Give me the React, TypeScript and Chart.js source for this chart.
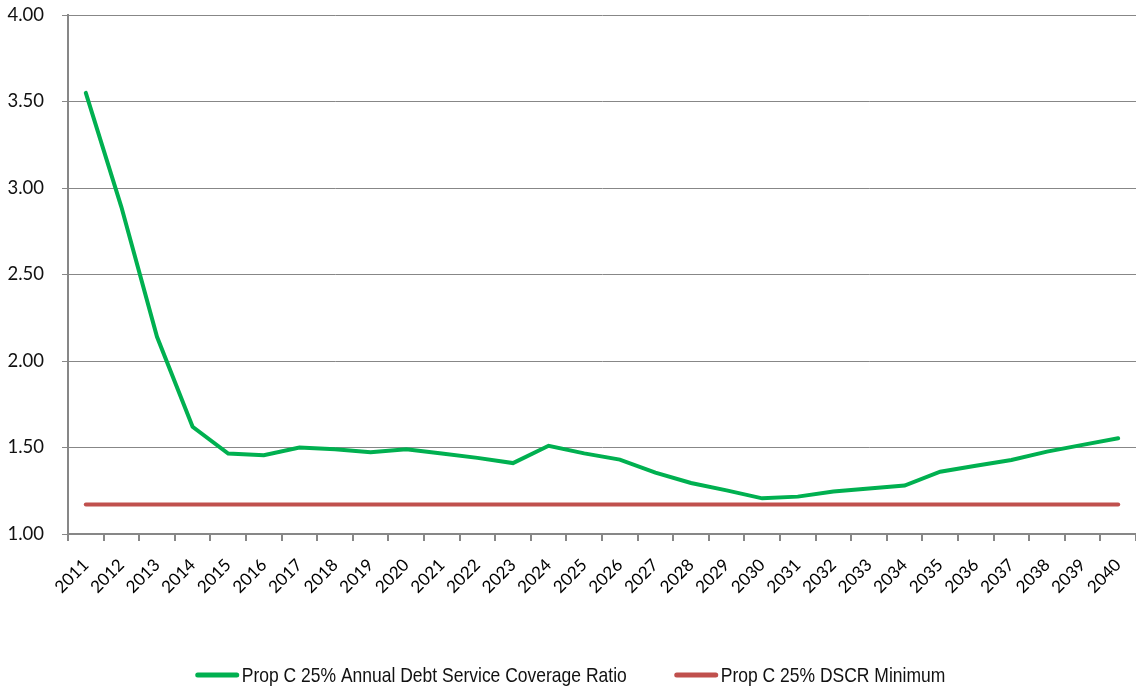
import React, { useEffect, useRef } from "react";
import { Chart, registerables } from "chart.js";

Chart.register(...registerables);

const years: string[] = [
  "2011", "2012", "2013", "2014", "2015", "2016", "2017", "2018", "2019", "2020",
  "2021", "2022", "2023", "2024", "2025", "2026", "2027", "2028", "2029", "2030",
  "2031", "2032", "2033", "2034", "2035", "2036", "2037", "2038", "2039", "2040",
];

const dscr: number[] = [
  3.55, 2.89, 2.14, 1.62, 1.465, 1.455, 1.50, 1.49, 1.472, 1.49,
  1.465, 1.44, 1.41, 1.51, 1.466, 1.43, 1.355, 1.295, 1.252, 1.206,
  1.216, 1.246, 1.263, 1.28, 1.36, 1.395, 1.428, 1.476, 1.515, 1.553,
];

const dscrMinimum: number[] = years.map(() => 1.17);

const seriesNames: string[] = [
  "Prop C 25% Annual Debt Service Coverage Ratio",
  "Prop C 25% DSCR Minimum",
];

const yMin = 1;
const yMax = 4;
const yStep = 0.5;

const bottomLegend = {
  id: "bottomLegend",
  afterDraw(chart: any) {
    const ctx = chart.ctx as CanvasRenderingContext2D;
    const datasets = chart.data.datasets;
    const fontPx = 21;
    const swatchW = 43;
    const swatchGap = 3;
    const itemGap = 48;
    const centerX = 570.5;
    const baseY = 682;
    const swatchY = 675;
    ctx.save();
    ctx.font = `${fontPx}px 'Liberation Sans', Arial, sans-serif`;
    const rawW = datasets.map((d: any) => ctx.measureText(d.label).width);
    const sx = 385 / rawW[0];
    const textW = rawW.map((w: number) => w * sx);
    let total = 0;
    textW.forEach((w: number, i: number) => {
      total += swatchW + swatchGap + w + (i < textW.length - 1 ? itemGap : 0);
    });
    let x = centerX - total / 2;
    datasets.forEach((d: any, i: number) => {
      ctx.strokeStyle = d.borderColor;
      ctx.lineWidth = 5;
      ctx.lineCap = "round";
      ctx.beginPath();
      ctx.moveTo(x + 2, swatchY);
      ctx.lineTo(x + swatchW - 2, swatchY);
      ctx.stroke();
      x += swatchW + swatchGap;
      ctx.save();
      ctx.translate(x, baseY);
      ctx.scale(sx, 1);
      ctx.fillStyle = "#111";
      ctx.textAlign = "left";
      ctx.textBaseline = "alphabetic";
      ctx.fillText(d.label, 0, 0);
      ctx.restore();
      x += textW[i] + itemGap;
    });
    ctx.restore();
  },
};

export default function App() {
  const ref = useRef<HTMLCanvasElement | null>(null);

  useEffect(() => {
    document.body.style.margin = "0";
    const canvas = ref.current;
    if (!canvas) return;
    const gray = "#878787";
    const chart = new Chart(canvas, {
      type: "line",
      data: {
        labels: years,
        datasets: [
          {
            label: seriesNames[0],
            data: dscr,
            borderColor: "#00B050",
            backgroundColor: "#00B050",
            borderWidth: 4,
            pointRadius: 0,
            tension: 0,
            borderCapStyle: "round",
          },
          {
            label: seriesNames[1],
            data: dscrMinimum,
            borderColor: "#C0504D",
            backgroundColor: "#C0504D",
            borderWidth: 4,
            pointRadius: 0,
            tension: 0,
            borderCapStyle: "round",
          },
        ],
      },
      plugins: [bottomLegend],
      options: {
        animation: false,
        responsive: false,
        maintainAspectRatio: false,
        layout: { padding: { left: 0, right: 0, top: 15, bottom: 0 } },
        plugins: {
          tooltip: { enabled: false },
          legend: { display: false },
        },
        scales: {
          x: {
            type: "category",
            offset: true,
            afterFit: (scale: any) => {
              scale.height = 153;
              scale.paddingLeft = 0;
              scale.paddingRight = 0;
            },
            grid: {
              offset: true,
              drawOnChartArea: false,
              drawTicks: true,
              tickLength: 7,
              color: gray,
              lineWidth: 2,
            },
            border: { color: gray, width: 2 },
            ticks: {
              minRotation: 45,
              maxRotation: 45,
              autoSkip: false,
              padding: 14,
              color: "#000",
              font: { family: "Lato, 'Open Sans', sans-serif", size: 17 },
            },
          },
          y: {
            min: yMin,
            max: yMax,
            afterFit: (scale: any) => {
              scale.width = 68;
              scale.paddingTop = 0;
              scale.paddingBottom = 0;
            },
            grid: {
              color: gray,
              lineWidth: 1,
              tickLength: 6,
              drawTicks: true,
            },
            border: { color: gray, width: 2 },
            ticks: {
              stepSize: yStep,
              padding: 18,
              color: "#111",
              font: { family: "Lato, 'Open Sans', sans-serif", size: 18.5 },
              callback: (v: any) => Number(v).toFixed(2),
            },
          },
        },
      },
    });
    return () => chart.destroy();
  }, []);

  return (
    <div style={{ width: 1136, height: 687 }}>
      <canvas ref={ref} width={1136} height={687} style={{ display: "block" }} />
    </div>
  );
}
